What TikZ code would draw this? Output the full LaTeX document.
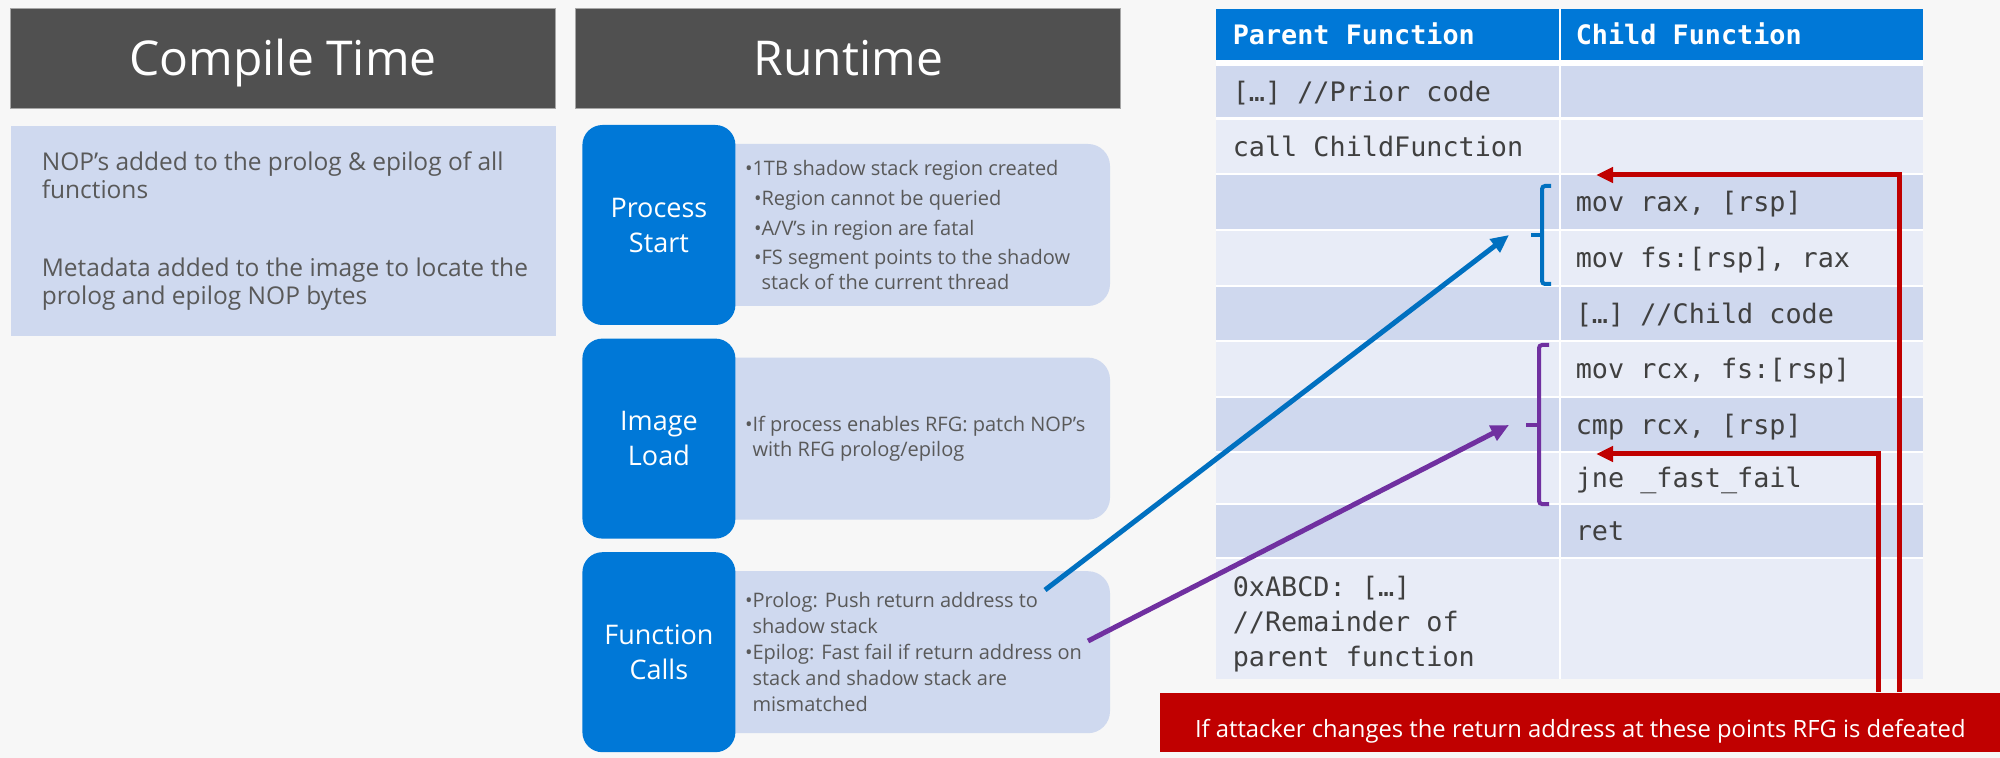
\documentclass[tikz,border=0pt]{standalone}
\usepackage{fontspec}
\setmainfont{Open Sans}
\setmonofont{DejaVu Sans Mono}
\usepackage{xcolor}
\usepackage{tikz}
\usetikzlibrary{positioning,arrows.meta,calc}

\definecolor{pagebg}{HTML}{F7F7F7}
\definecolor{hdrgray}{HTML}{505050}
\definecolor{winblue}{HTML}{0078D7}
\definecolor{paleblue}{HTML}{CFD9EF}
\definecolor{rowdark}{HTML}{CFD8EE}
\definecolor{rowlight}{HTML}{E8ECF7}
\definecolor{bodytext}{HTML}{595959}
\definecolor{codetext}{HTML}{404040}
\definecolor{linkblue}{HTML}{0070C0}
\definecolor{linkpurple}{HTML}{7030A0}
\definecolor{alertred}{HTML}{C00000}

\begin{document}
\begin{tikzpicture}[x=0.5pt, y=-0.5pt, thick,
    hdr/.style={fill=hdrgray, draw=gray!70, line width=0.6pt, text=white,
      font=\fontsize{24}{28}\selectfont, text height=17pt, text depth=0pt,
      minimum width=272.5pt, minimum height=50pt, inner sep=0pt},
    panel/.style={fill=paleblue, minimum width=272.5pt, minimum height=105pt, inner sep=0pt},
    info/.style={fill=paleblue, rounded corners=11pt, minimum width=205pt,
      minimum height=81pt, inner sep=0pt},
    phase/.style={fill=winblue, text=white, rounded corners=10pt, align=center,
      font=\fontsize{13.5}{17.5}\selectfont, minimum width=76.5pt,
      minimum height=100pt, inner sep=0pt},
    note/.style={anchor=west, align=left, inner sep=0pt, text=bodytext,
      font=\fontsize{10}{12.5}\selectfont},
    bignote/.style={note, font=\fontsize{12.25}{14}\selectfont},
    code/.style={anchor=west, inner sep=0pt, text=codetext,
      font=\ttfamily\fontsize{13.4}{17.5}\selectfont, text height=9.8pt, text depth=0pt},
    codehead/.style={code, text=white, font=\ttfamily\bfseries\fontsize{13.4}{17.5}\selectfont},
    remcode/.style={anchor=north west, align=left, inner sep=0pt, text=codetext,
      font=\ttfamily\fontsize{13.4}{17.5}\selectfont},
    link/.style={line width=2.5pt, -{Triangle[length=9pt, width=8pt]}},
    redlink/.style={line width=2.5pt, alertred, -{Triangle[length=8.5pt, width=7.5pt]}},
    brkt/.style={line width=2pt, rounded corners=1.5pt},
    warnbox/.style={fill=alertred, text=white, font=\fontsize{11.9}{14}\selectfont,
      text height=15.5pt, text depth=0pt, minimum width=420.5pt,
      minimum height=29.5pt, inner sep=0pt},
  ]
    \useasboundingbox (0,0) rectangle (2000,758);
    \fill[pagebg] (0,0) rectangle (2000,758);

    % Compile time column
    \node[hdr, anchor=north west] (compile_hdr) at (10,8) {Compile Time};
    \node[panel, below=8pt of compile_hdr] (compile_box) {};
    \node[bignote] (nop_text) at (41,175) {NOP’s added to the prolog \& epilog of all\\functions};
    \node[bignote] (meta_text) at (41,284) {Metadata added to the image to locate the\\prolog and epilog NOP bytes};

    % Runtime column
    \node[hdr, right=9.5pt of compile_hdr] (runtime_hdr) {Runtime};
    \node[info] (ps_info) at (905,225) {};
    \node[info, below=25pt of ps_info] (il_info) {};
    \node[info, below=25pt of il_info] (fc_info) {};
    \node[phase, left=-18.5pt of ps_info] (ps_box) {Process\\Start};
    \node[phase, left=-18.5pt of il_info] (il_box) {Image\\Load};
    \node[phase, left=-18.5pt of fc_info] (fc_box) {Function\\Calls};

    \node[note] (ps_text) at ([xshift=22.5pt]ps_info.west) {%
      \textbullet 1TB shadow stack region created\\[2.5pt]
      \hspace*{4.5pt}\textbullet Region cannot be queried\\[2.5pt]
      \hspace*{4.5pt}\textbullet A/V’s in region are fatal\\[2pt]
      \hspace*{4.5pt}\textbullet FS segment points to the shadow\\
      \hspace*{4.5pt}\phantom{\textbullet}stack of the current thread};
    \node[note] (il_text) at ([xshift=22.5pt]il_info.west) {%
      \textbullet If process enables RFG: patch NOP’s\\
      \phantom{\textbullet}with RFG prolog/epilog};
    \node[note, font=\fontsize{10}{13}\selectfont] (fc_text) at ([xshift=22.5pt]fc_info.west) {%
      \textbullet Prolog: Push return address to\\
      \phantom{\textbullet}shadow stack\\
      \textbullet Epilog: Fast fail if return address on\\
      \phantom{\textbullet}stack and shadow stack are\\
      \phantom{\textbullet}mismatched};

    % Parent / child table
    \fill[white] (1216,9) rectangle (1923,679);
    \fill[winblue] (1216,9) rectangle (1559,60);
    \fill[winblue] (1561,9) rectangle (1923,60);
    \node[codehead] (parent_head) at (1232,34.5) {Parent Function};
    \node[codehead] (child_head) at (1575,34.5) {Child Function};
    \foreach \n/\ya/\yb/\tone/\ptxt/\ctxt in {
        1/66/117/rowdark/{[…] //Prior code}/{},
        2/120/173/rowlight/{call ChildFunction}/{},
        3/175/229/rowdark/{}/{mov rax, [rsp]},
        4/231/285/rowlight/{}/{mov fs:[rsp], rax},
        5/287/340/rowdark/{}/{[…] //Child code},
        6/342/396/rowlight/{}/{mov rcx, fs:[rsp]},
        7/398/451/rowdark/{}/{cmp rcx, [rsp]},
        8/453/503/rowlight/{}/{jne \_fast\_fail},
        9/505/557/rowdark/{}/{ret}}
    {
      \fill[\tone] (1216,\ya) rectangle (1559,\yb);
      \fill[\tone] (1561,\ya) rectangle (1923,\yb);
      \node[code] (par_\n) at (1232,{(\ya+\yb)/2}) {\ptxt};
      \node[code] (chi_\n) at (1575,{(\ya+\yb)/2}) {\ctxt};
    }
    \fill[rowlight] (1216,559) rectangle (1559,679);
    \fill[rowlight] (1561,559) rectangle (1923,679);
    \node[remcode] (rem_text) at (1232,575) {0xABCD: […]\\//Remainder of\\parent function};

    % Brackets round the prolog and epilog code
    \draw[brkt, linkblue] (1551,186) -- (1542,186) -- (1542,284) -- (1551,284);
    \draw[brkt, linkblue] (1542,235) -- (1531,235);
    \draw[brkt, linkpurple] (1549,345) -- (1539,345) -- (1539,504) -- (1549,504);
    \draw[brkt, linkpurple] (1539,425) -- (1526,425);

    % Links from the runtime notes
    \coordinate (prolog_pt) at (1045,590);
    \coordinate (epilog_pt) at (1088,641);
    \coordinate (save_pt) at (1509,235);
    \coordinate (check_pt) at (1509,425);
    \draw[link, linkblue] (prolog_pt) -- (save_pt);
    \draw[link, linkpurple] (epilog_pt) -- (check_pt);

    % Attack points
    \node[warnbox, anchor=north west] (warn) at (1159,692) {If attacker changes the return address at these points RFG is defeated};
    \coordinate (ret_hit) at (1596,175);
    \coordinate (cmp_hit) at (1596,454);
    \coordinate (ret_col) at (1899,0);
    \coordinate (cmp_col) at (1878,0);
    \draw[redlink] (ret_col |- warn.north) |- (ret_hit);
    \draw[redlink] (cmp_col |- warn.north) |- (cmp_hit);
\end{tikzpicture}
\end{document}
